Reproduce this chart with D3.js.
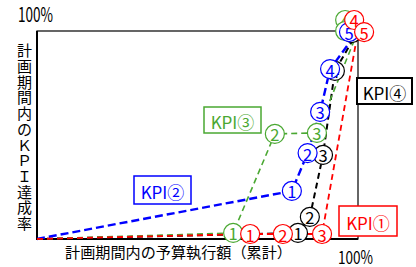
<!DOCTYPE html>
<html>
<head>
<meta charset="utf-8">
<script src="https://cdn.jsdelivr.net/npm/d3@7"></script>
<style>
  body { margin: 0; background: #fff; }
  svg { display: block; font-family: "Noto Sans CJK JP", "Noto Sans", sans-serif; }
</style>
</head>
<body>
<div id="chart"></div>
<script>
'use strict';
/* values, in % of plan period total */
var marks = ['1', '2', '3', '4', '5'];
var budgetKpi1 = [66.4, 76.6, 88.8, 98.8, 101.9];
var achieveKpi1 = [2.4, 2.4, 2.4, 105.3, 99.5];
var budgetKpi2 = [79.4, 84.3, 88.2, 91.3, 97.2];
var achieveKpi2 = [23.1, 41.3, 61.1, 81.7, 99.5];
var budgetKpi3 = [61.1, 74.1, 87.2, 96.0, 96.0];
var achieveKpi3 = [2.9, 50.5, 51.0, 105.3, 100.0];
var budgetKpi4 = [81.3, 85.0, 89.1, 92.8, 98.1];
var achieveKpi4 = [2.9, 10.6, 40.4, 80.8, 99.0];
var start = [0, 0];
var end = [100, 100];

var width = 416;
var height = 267;
var x = d3.scaleLinear().domain([0, 100]).range([37, 358]);
var y = d3.scaleLinear().domain([0, 100]).range([239, 31]);

var series = [
  { name: 'KPI④', color: '#000000', dash: '6,4', w: 2, xs: budgetKpi4, ys: achieveKpi4,
    box: [357, 78, 55, 26], bw: 2 },
  { name: 'KPI③', color: '#4aa832', dash: '6,4', w: 1.6, xs: budgetKpi3, ys: achieveKpi3,
    box: [204, 107, 57, 26], bw: 1.5 },
  { name: 'KPI②', color: '#0000ff', dash: '8,4', w: 2.4, xs: budgetKpi2, ys: achieveKpi2,
    box: [134, 176, 57, 28], bw: 1.5 },
  { name: 'KPI①', color: '#ff0000', dash: '6,4', w: 1.8, xs: budgetKpi1, ys: achieveKpi1,
    box: [339, 206, 58, 30], bw: 1.5 }
];

var svg = d3.select('#chart')
  .append('svg')
  .attr('width', width)
  .attr('height', height);

/* plot frame */
svg.append('rect')
  .attr('x', x(0)).attr('y', y(100))
  .attr('width', x(100) - x(0)).attr('height', y(0) - y(100))
  .attr('fill', 'none').attr('stroke', '#000').attr('stroke-width', 1.2);
svg.append('path')
  .attr('d', 'M' + x(0) + ',' + y(100) + 'V' + y(0) + 'H' + x(100))
  .attr('fill', 'none').attr('stroke', '#000').attr('stroke-width', 2);

/* 100% labels */
svg.append('text')
  .attr('x', x(0) - 19).attr('y', y(100) - 9)
  .attr('font-size', 20).attr('textLength', 35).attr('lengthAdjust', 'spacingAndGlyphs')
  .text('100%');
svg.append('text')
  .attr('x', x(100) - 20).attr('y', 264)
  .attr('font-size', 18).attr('textLength', 35).attr('lengthAdjust', 'spacingAndGlyphs')
  .text('100%');

/* axis titles */
svg.append('text')
  .attr('x', 65).attr('y', 258)
  .attr('font-size', 15).attr('textLength', 227).attr('lengthAdjust', 'spacingAndGlyphs')
  .text('計画期間内の予算執行額（累計）');

var yTitle = '計画期間内のＫＰＩ達成率'.split('');
svg.append('g').selectAll('text')
  .data(yTitle)
  .enter()
  .append('text')
  .attr('x', 24.5)
  .attr('y', function(d, i) { return 42 + 7.8 + i * 15.7; })
  .attr('text-anchor', 'middle')
  .attr('dominant-baseline', 'central')
  .attr('font-size', 15)
  .text(function(d) { return d; });

/* dashed lines: origin -> points below the top -> 100%,100% */
var line = d3.line()
  .x(function(d) { return x(d[0]); })
  .y(function(d) { return y(d[1]); });

series.forEach(function(s) {
  var pts = [start];
  for(var i = 0; i < s.xs.length; i++) {
    if(s.ys[i] < 90) pts.push([s.xs[i], s.ys[i]]);
  }
  pts.push(end);
  svg.append('path')
    .attr('d', line(pts))
    .attr('fill', 'none')
    .attr('stroke', s.color)
    .attr('stroke-width', s.w)
    .attr('stroke-dasharray', s.dash);
});

/* numbered markers */
series.forEach(function(s) {
  var g = svg.append('g');
  var m = g.selectAll('g')
    .data(marks)
    .enter()
    .append('g')
    .attr('transform', function(d, i) {
      return 'translate(' + x(s.xs[i]) + ',' + y(s.ys[i]) + ')';
    });
  m.append('circle')
    .attr('r', 9.5)
    .attr('fill', '#fff')
    .attr('stroke', s.color)
    .attr('stroke-width', 1.2);
  m.append('text')
    .attr('text-anchor', 'middle')
    .attr('dominant-baseline', 'central')
    .attr('y', 0.5)
    .attr('font-size', 16.5)
    .attr('fill', s.color)
    .text(function(d) { return d; });
});

/* series name boxes */
series.forEach(function(s) {
  var b = s.box;
  svg.append('rect')
    .attr('x', b[0]).attr('y', b[1])
    .attr('width', b[2]).attr('height', b[3])
    .attr('fill', '#fff')
    .attr('stroke', s.color)
    .attr('stroke-width', s.bw);
  svg.append('text')
    .attr('x', b[0] + b[2] / 2).attr('y', b[1] + b[3] / 2 + 1)
    .attr('text-anchor', 'middle')
    .attr('dominant-baseline', 'central')
    .attr('font-size', 17)
    .attr('fill', s.color)
    .text(s.name);
});
</script>
</body>
</html>
